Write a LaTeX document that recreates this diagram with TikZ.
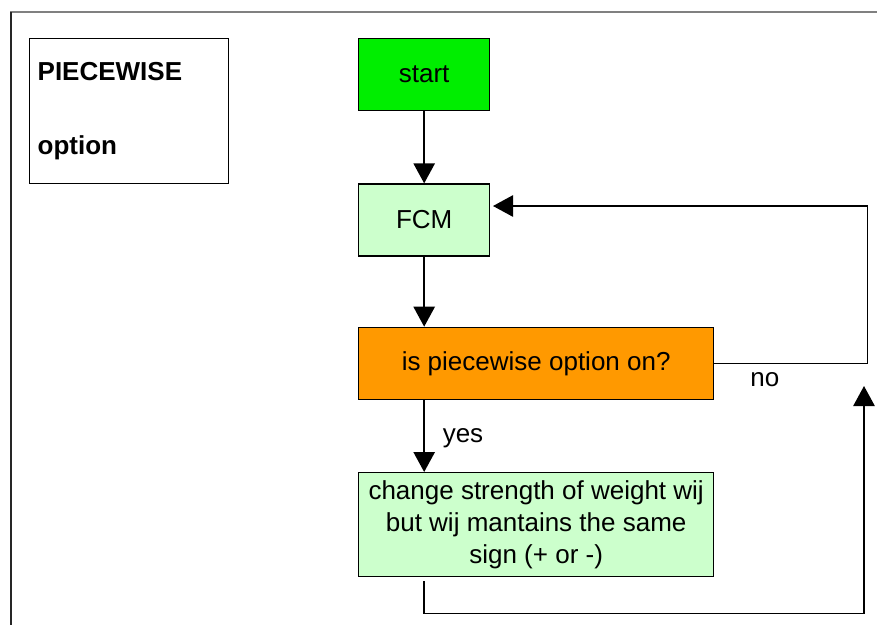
\documentclass[tikz,border=0pt]{standalone}
\usepackage{fontspec}
\setmainfont{Liberation Sans}
\usetikzlibrary{positioning,arrows.meta}
\definecolor{startgreen}{HTML}{00EE00}
\definecolor{palegreen}{HTML}{CCFFCC}
\definecolor{decorange}{HTML}{FF9900}
\begin{document}
\begin{tikzpicture}[x=0.75pt, y=-0.75pt,
  box/.style = {shape=rectangle, draw, line width=1pt, align=center,
    font=\fontsize{19.5}{24}\selectfont, inner sep=2pt},
  arr/.style = {-{Triangle[length=15pt, width=16pt]}, line width=1.2pt}]
  \useasboundingbox (0,0) rectangle (877,625);
  % frame
  \draw[gray, line width=1.5pt] (10,12) -- (877,12);
  \draw[black!85, line width=1.2pt] (11,12) -- (11,625);
  \node[box, align=left, anchor=north west, text width=137pt,
    minimum height=108.75pt, inner xsep=6pt] (title) at (29,38)
    {\textbf{PIECEWISE}\\[31pt]\textbf{option}};
  % flow
  \node[box, fill=startgreen, minimum width=98.25pt, minimum height=54pt,
    anchor=north west] (start) at (358,38) {start};
  \node[box, fill=palegreen, minimum width=98.25pt, minimum height=54pt,
    below=54pt of start] (fcm) {FCM};
  \node[box, fill=decorange, minimum width=266.25pt, minimum height=54pt,
    below=52.5pt of fcm.south west, anchor=north west] (dec)
    {is piecewise option on?};
  \node[box, fill=palegreen, minimum width=266.25pt, minimum height=78pt,
    below=54pt of dec.south west, anchor=north west] (chg)
    {change strength of weight wij\\but wij mantains the same\\sign (+ or -)};
  \coordinate (ret) at (864,386);
  \draw[arr] (start) -- (fcm);
  \draw[arr] (fcm) -- (fcm |- dec.north);
  \draw[arr] (fcm |- dec.south) -- node[right, xshift=10pt, yshift=-2pt,
    font=\fontsize{19.5}{24}\selectfont] {yes} (fcm |- chg.north);
  \draw[arr] (dec.east) -- node[below, pos=0.33, yshift=-3pt,
    font=\fontsize{19.5}{24}\selectfont] {no} ++(153,0)
    |- ([yshift=10.5pt, xshift=2pt]fcm.east);
  \draw[arr] ([yshift=-3pt]fcm |- chg.south) -- ++(0,32) -| (ret);
\end{tikzpicture}
\end{document}
